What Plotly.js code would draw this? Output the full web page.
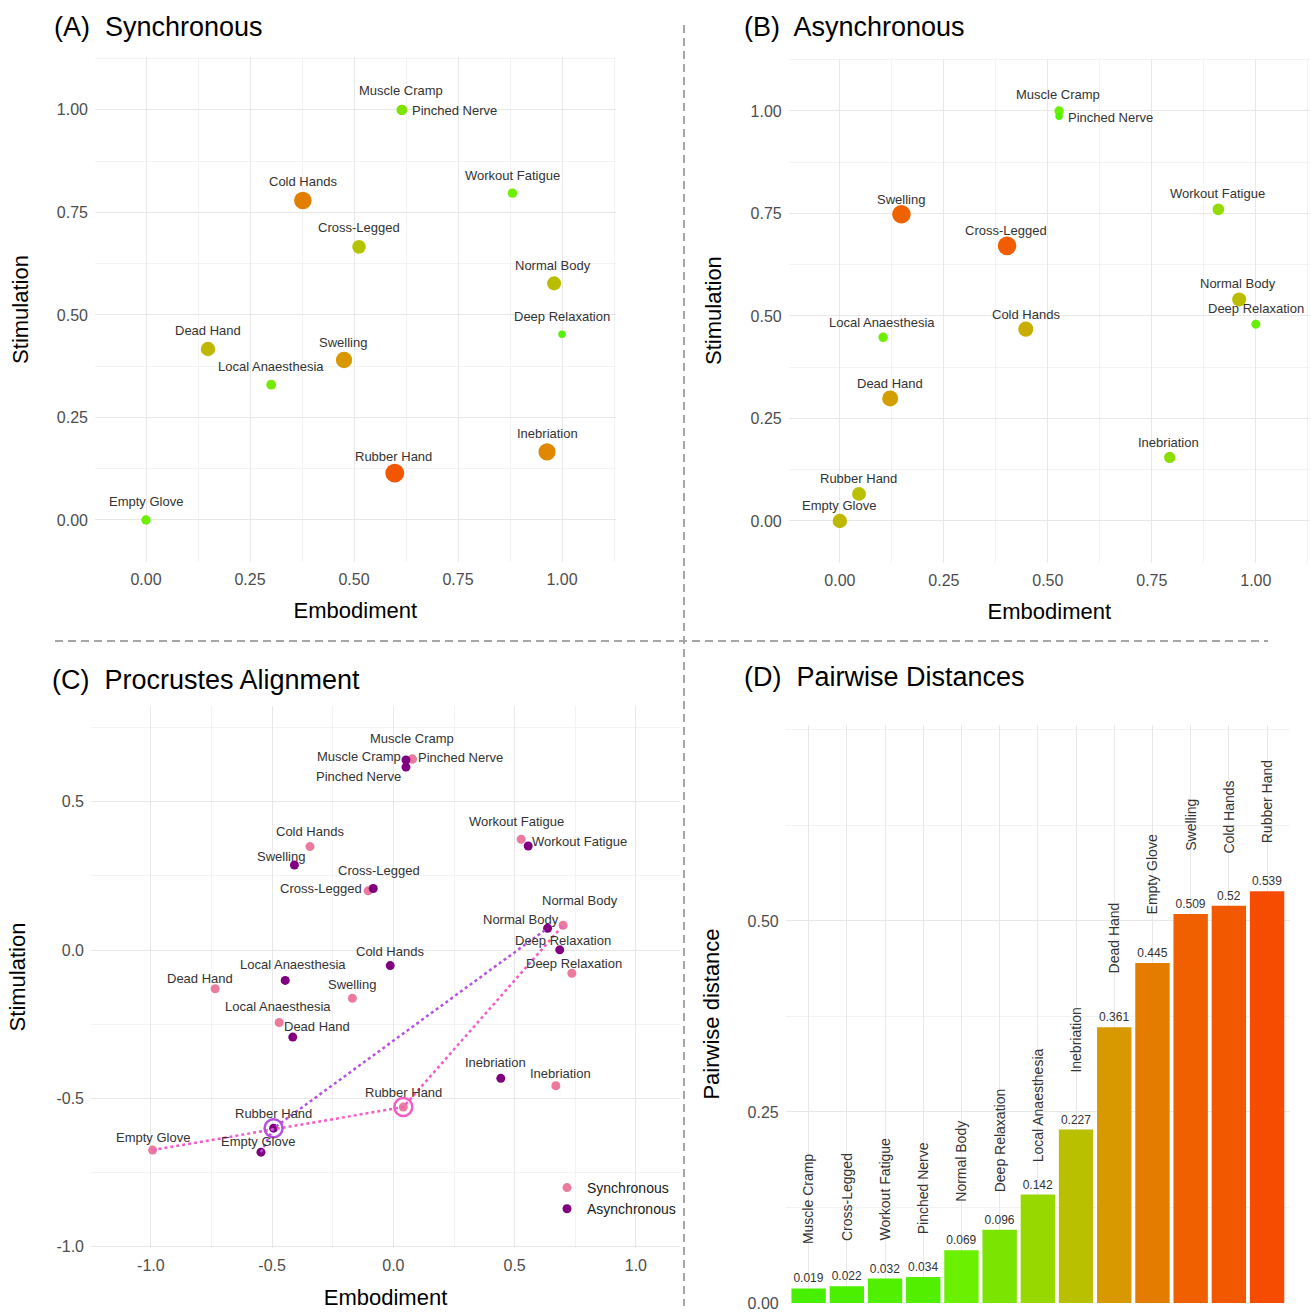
<!DOCTYPE html>
<html><head><meta charset="utf-8">
<script src="https://cdn.plot.ly/plotly-3.0.1.min.js"></script>
<style>html,body{margin:0;padding:0;background:#fff}#chart{width:1311px;height:1314px}</style>
</head><body><div id="chart"></div>
<script>
// ---------------- DATA ----------------
const conditions = ['Muscle Cramp','Pinched Nerve','Workout Fatigue','Cold Hands','Cross-Legged','Normal Body','Deep Relaxation','Dead Hand','Swelling','Local Anaesthesia','Inebriation','Rubber Hand','Empty Glove'];

// (A) Synchronous
const syncEmbodiment  = [0.615,0.615,0.881,0.377,0.512,0.981,1.000,0.149,0.476,0.301,0.964,0.598,0.000];
const syncStimulation = [1.000,1.000,0.797,0.779,0.666,0.577,0.453,0.417,0.390,0.330,0.166,0.114,0.000];
const syncShift       = [0.15,0.15,0.10,0.80,0.38,0.42,0.03,0.45,0.66,0.12,0.75,0.97,0.10];

// (B) Asynchronous
const asyncEmbodiment  = [0.527,0.527,0.910,0.447,0.402,0.960,1.000,0.121,0.148,0.104,0.793,0.046,0.000];
const asyncStimulation = [1.000,0.987,0.760,0.468,0.671,0.540,0.480,0.299,0.748,0.448,0.155,0.066,0.000];
const asyncShift       = [0.10,0.03,0.22,0.52,0.95,0.42,0.08,0.62,0.93,0.10,0.20,0.40,0.45];

// (C) Procrustes alignment
const procSyncX  = [0.078,0.078,0.527,-0.344,-0.104,0.700,0.736,-0.735,-0.169,-0.471,0.670,0.041,-0.993];
const procSyncY  = [0.644,0.644,0.374,0.349,0.200,0.084,-0.078,-0.130,-0.162,-0.244,-0.457,-0.529,-0.674];
const procAsyncX = [0.052,0.052,0.556,-0.013,-0.083,0.636,0.686,-0.415,-0.408,-0.446,0.443,-0.494,-0.546];
const procAsyncY = [0.641,0.617,0.351,-0.052,0.208,0.074,0.001,-0.293,0.287,-0.102,-0.432,-0.600,-0.681];
const pathConditions = ['Empty Glove','Rubber Hand','Normal Body'];
const highlightCondition = 'Rubber Hand';
const seriesNames = ['Synchronous','Asynchronous'];

// (D) Pairwise distances
const distCategories = ['Muscle Cramp','Cross-Legged','Workout Fatigue','Pinched Nerve','Normal Body','Deep Relaxation','Local Anaesthesia','Inebriation','Dead Hand','Empty Glove','Swelling','Cold Hands','Rubber Hand'];
const distValues = [0.019,0.022,0.032,0.034,0.069,0.096,0.142,0.227,0.361,0.445,0.509,0.52,0.539];

// tick labels
const ticksAB = [0,0.25,0.5,0.75,1];
const ticksC = [-1,-0.5,0,0.5,1];
const ticksCText = ['-1.0','-0.5','0.0','0.5','1.0'];
const ticksD = [0,0.25,0.5];

// ---------------- STYLE ----------------
const W = 1311, H = 1314;
const FONT = 'Liberation Sans, Arial, sans-serif';
const px = v => v / W;
const py = v => 1 - v / H;
const heatScale = [[0,'#48f000'],[0.1,'#6cf000'],[0.15,'#7ce400'],[0.24,'#98d800'],[0.4,'#b8c000'],[0.66,'#d89800'],[0.82,'#e47c00'],[0.94,'#f06000'],[1,'#f54c00']];
const sizeScale = v => 5 + 14 * Math.sqrt(v);
const syncColor = '#eb7a9c', asyncColor = '#800080';
const syncPathColor = '#f55bc8', asyncPathColor = '#b650e0';

// label offsets in px [dx, dy(down)]
const offA = {'Muscle Cramp':[-1,-19],'Pinched Nerve':[53,1],'Workout Fatigue':[0,-18],'Cold Hands':[0,-19],'Cross-Legged':[0,-19],'Normal Body':[-1,-18],'Deep Relaxation':[0,-18],'Dead Hand':[0,-18],'Swelling':[-1,-18],'Local Anaesthesia':[0,-18],'Inebriation':[0,-18],'Rubber Hand':[-1,-17],'Empty Glove':[0,-18]};
const offB = {'Muscle Cramp':[-1,-16],'Pinched Nerve':[51,1],'Workout Fatigue':[-1,-16],'Cold Hands':[0,-15],'Cross-Legged':[-1,-15],'Normal Body':[-1,-16],'Deep Relaxation':[0,-16],'Dead Hand':[0,-15],'Swelling':[0,-15],'Local Anaesthesia':[-1,-15],'Inebriation':[-1,-15],'Rubber Hand':[-1,-15],'Empty Glove':[-1,-15]};
const offCs = {'Muscle Cramp':[0,-21],'Pinched Nerve':[48,-2],'Workout Fatigue':[-5,-18],'Cold Hands':[0,-15],'Cross-Legged':[-47,-2],'Normal Body':[17,-25],'Deep Relaxation':[2,-10],'Dead Hand':[-15,-10],'Swelling':[0,-14],'Local Anaesthesia':[-1,-16],'Inebriation':[5,-12],'Rubber Hand':[0,-15],'Empty Glove':[0,-13]};
const offCa = {'Muscle Cramp':[-47,-3],'Pinched Nerve':[-47,9],'Workout Fatigue':[51,-5],'Cold Hands':[0,-14],'Cross-Legged':[6,-18],'Normal Body':[-27,-9],'Deep Relaxation':[3,-9],'Dead Hand':[24,-11],'Swelling':[-13,-9],'Local Anaesthesia':[8,-16],'Inebriation':[-5,-16],'Rubber Hand':[0,-15],'Empty Glove':[-3,-11]};

// ---------------- TRACES ----------------
const traces = [];
function heatPoints(xs, ys, vals, xa, ya) {
  return {type:'scatter', mode:'markers', x:xs, y:ys, xaxis:xa, yaxis:ya, showlegend:false,
    text:conditions, hoverinfo:'text+x+y',
    marker:{color:vals, colorscale:heatScale, cmin:0, cmax:1, showscale:false, opacity:1, size:vals.map(sizeScale), line:{width:0}}};
}
traces.push(heatPoints(syncEmbodiment, syncStimulation, syncShift, 'x', 'y'));
traces.push(heatPoints(asyncEmbodiment, asyncStimulation, asyncShift, 'x2', 'y2'));

const pathIdx = pathConditions.map(c => conditions.indexOf(c));
const hiIdx = conditions.indexOf(highlightCondition);
traces.push({type:'scatter', mode:'markers', name:seriesNames[0], x:procSyncX, y:procSyncY, xaxis:'x3', yaxis:'y3', text:conditions,
  marker:{color:syncColor, size:9, opacity:1}, showlegend:true});
traces.push({type:'scatter', mode:'markers', name:seriesNames[1], x:procAsyncX, y:procAsyncY, xaxis:'x3', yaxis:'y3', text:conditions,
  marker:{color:asyncColor, size:9, opacity:1}, showlegend:true});
traces.push({type:'scatter', mode:'lines', x:pathIdx.map(i=>procSyncX[i]), y:pathIdx.map(i=>procSyncY[i]), xaxis:'x3', yaxis:'y3',
  line:{color:syncPathColor, width:2.5, dash:'dot'}, showlegend:false, hoverinfo:'skip'});
traces.push({type:'scatter', mode:'lines', x:pathIdx.map(i=>procAsyncX[i]), y:pathIdx.map(i=>procAsyncY[i]), xaxis:'x3', yaxis:'y3',
  line:{color:asyncPathColor, width:2.5, dash:'dot'}, showlegend:false, hoverinfo:'skip'});
traces.push({type:'scatter', mode:'markers', x:[procSyncX[hiIdx]], y:[procSyncY[hiIdx]], xaxis:'x3', yaxis:'y3',
  marker:{symbol:'circle-open', size:18, color:syncPathColor, line:{width:2.5, color:syncPathColor}}, showlegend:false, hoverinfo:'skip'});
traces.push({type:'scatter', mode:'markers', x:[procAsyncX[hiIdx]], y:[procAsyncY[hiIdx]], xaxis:'x3', yaxis:'y3',
  marker:{symbol:'circle-open', size:18, color:asyncPathColor, line:{width:2.5, color:asyncPathColor}}, showlegend:false, hoverinfo:'skip'});

const dMin = Math.min(...distValues), dMax = Math.max(...distValues);
traces.push({type:'bar', x:distCategories, y:distValues, xaxis:'x4', yaxis:'y4', width:0.9, showlegend:false,
  marker:{color:distValues, colorscale:heatScale, cmin:dMin, cmax:dMax, showscale:false, line:{width:0}},
  text:distValues.map(String), textposition:'outside', constraintext:'none', cliponaxis:false,
  textfont:{size:12, color:'#333', family:FONT}});

// ---------------- ANNOTATIONS ----------------
const annotations = [];
function labels(xs, ys, offs, xref, yref) {
  conditions.forEach((c,i) => annotations.push({x:xs[i], y:ys[i], xref, yref, text:c, showarrow:false,
    xshift:offs[c][0], yshift:-offs[c][1], font:{size:13, color:'#333', family:FONT}}));
}
labels(syncEmbodiment, syncStimulation, offA, 'x', 'y');
labels(asyncEmbodiment, asyncStimulation, offB, 'x2', 'y2');
labels(procSyncX, procSyncY, offCs, 'x3', 'y3');
labels(procAsyncX, procAsyncY, offCa, 'x3', 'y3');
distCategories.forEach((c,i) => annotations.push({x:c, y:distValues[i], xref:'x4', yref:'y4', text:c, textangle:-90,
  showarrow:false, yshift:89, font:{size:14, color:'#333', family:FONT}}));

const panelTitles = [['(A)\u00a0 Synchronous',52,27],['(B)\u00a0 Asynchronous',742,27],['(C)\u00a0 Procrustes Alignment',50,680],['(D)\u00a0 Pairwise Distances',742,677]];
panelTitles.forEach(([t,x,y]) => annotations.push({text:t, xref:'paper', yref:'paper', x:px(x), y:py(y), xanchor:'left', yanchor:'middle',
  showarrow:false, font:{size:27, color:'#000', family:FONT}}));

// ---------------- LAYOUT ----------------
function axis(o) {
  return Object.assign({showline:false, zeroline:false, ticks:'', showgrid:true, gridcolor:'#e8e8e8', gridwidth:1,
    tickfont:{size:16, color:'#4d4d4d', family:FONT}, ticklabelstandoff:6, automargin:false}, o);
}
const minorGrid = (d, t0) => ({showgrid:true, gridcolor:'#f3f3f3', gridwidth:1, dtick:d, tick0:t0, tickmode:'linear'});
const xTitle = (t, s) => ({text:t, font:{size:22, color:'#000', family:FONT}, standoff:s});

const layout = {
  width:W, height:H, margin:{l:0,r:0,t:0,b:0}, paper_bgcolor:'#fff', plot_bgcolor:'#fff',
  font:{family:FONT},
  showlegend:true,
  legend:{x:px(547), y:py(1172), xanchor:'left', yanchor:'top', bgcolor:'rgba(0,0,0,0)', font:{size:14, color:'#1a1a1a', family:FONT}, itemwidth:30, tracegroupgap:0},
  xaxis: axis({domain:[px(95),px(615.6)], range:[-0.1226,1.1288], anchor:'y', tickvals:ticksAB, tickformat:'.2f', minor:minorGrid(0.125,0), title:xTitle('Embodiment',16)}),
  yaxis: axis({domain:[py(561.6),py(57.4)], range:[-0.1015,1.128], anchor:'x', tickvals:ticksAB, tickformat:'.2f', minor:minorGrid(0.125,0), title:xTitle('Stimulation',22)}),
  xaxis2: axis({domain:[px(788.7),px(1309.9)], range:[-0.123,1.13], anchor:'y2', tickvals:ticksAB, tickformat:'.2f', minor:minorGrid(0.125,0), title:xTitle('Embodiment',16)}),
  yaxis2: axis({domain:[py(562.6),py(58.5)], range:[-0.1015,1.128], anchor:'x2', tickvals:ticksAB, tickformat:'.2f', minor:minorGrid(0.125,0), title:xTitle('Stimulation',22)}),
  xaxis3: axis({domain:[px(91),px(680)], range:[-1.247,1.182], anchor:'y3', tickvals:ticksC, ticktext:ticksCText, minor:minorGrid(0.25,-1), title:xTitle('Embodiment',16)}),
  yaxis3: axis({domain:[py(1248),py(706)], range:[-1.004,0.823], anchor:'x3', tickvals:ticksC, ticktext:ticksCText, minor:minorGrid(0.25,-1), title:xTitle('Stimulation',24)}),
  xaxis4: axis({domain:[px(785.7),px(1290)], range:[-0.6,12.6], anchor:'y4', type:'category', showticklabels:false}),
  yaxis4: axis({domain:[py(1303),py(725)], range:[0,0.7565], anchor:'x4', tickvals:ticksD, tickformat:'.2f', minor:minorGrid(0.125,0), title:xTitle('Pairwise distance',21)}),
  annotations,
  shapes:[
    {type:'line', xref:'paper', yref:'paper', x0:px(684), x1:px(684), y0:py(25), y1:py(1306), line:{color:'#a6a6a6', width:2, dash:'8px,5px'}},
    {type:'line', xref:'paper', yref:'paper', x0:px(55), x1:px(1268), y0:py(641), y1:py(641), line:{color:'#a6a6a6', width:2, dash:'8px,5px'}}
  ]
};

Plotly.newPlot('chart', traces, layout, {displayModeBar:false, staticPlot:true});
</script>
</body></html>
